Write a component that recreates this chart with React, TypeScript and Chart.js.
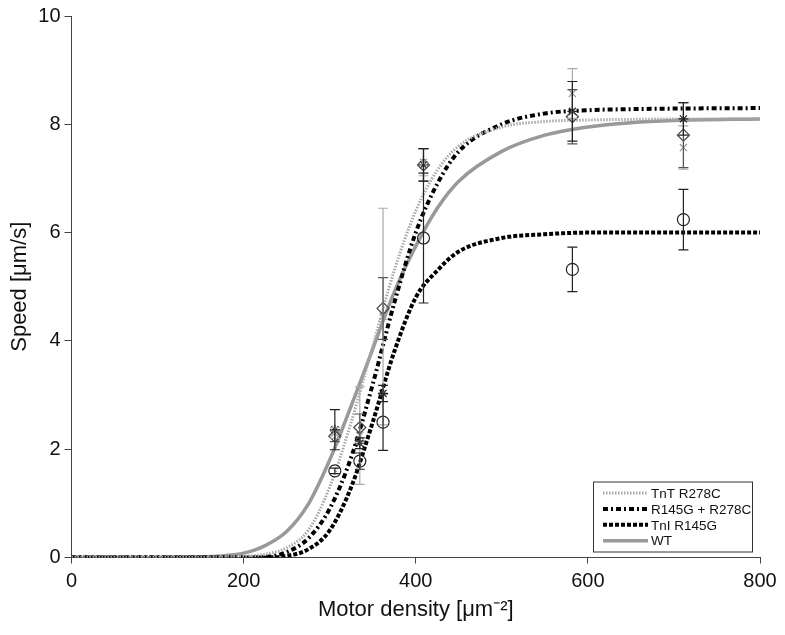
import React, { useEffect, useRef } from "react";
import { Chart, registerables } from "chart.js";

Chart.register(...registerables);

// ---- Data ----
const curveX = [0, 100, 150, 175, 200, 225, 250, 275, 300, 325, 350, 375, 400, 425, 450, 500, 550, 600, 650, 700, 800];
const wtCurve = [0, 0, 0.01, 0.03, 0.08, 0.22, 0.48, 0.98, 1.8, 2.8, 3.85, 4.9, 5.75, 6.45, 6.95, 7.5, 7.8, 7.95, 8.03, 8.07, 8.1];
const tntCurve = [0, 0, 0, 0.01, 0.02, 0.06, 0.18, 0.5, 1.3, 2.5, 3.9, 5.3, 6.4, 7.15, 7.6, 7.95, 8.05, 8.08, 8.09, 8.1, 8.1];
const doubleCurve = [0, 0, 0, 0, 0, 0.01, 0.1, 0.35, 0.9, 1.85, 3.2, 4.7, 6.0, 6.9, 7.5, 8.0, 8.2, 8.26, 8.28, 8.29, 8.3];
const tniCurve = [0, 0, 0, 0, 0, 0, 0.03, 0.15, 0.5, 1.3, 2.5, 3.8, 4.8, 5.3, 5.65, 5.9, 5.97, 6.0, 6.0, 6.0, 6.0];

const pointX = [306, 335, 362, 409, 582, 711];
const tniPts = [1.6, 1.78, 2.5, 5.9, 5.32, 6.24];
const tniErr = [0.05, 0.15, 0.52, 1.2, 0.41, 0.56];
const doublePts = [2.36, 2.11, 3.03, 7.25, 8.24, 8.1];
const doubleErr = [0.37, 0.1, 0.15, 0.3, 0.55, 0.3];
const wtPts = [2.24, 2.4, 4.6, 7.25, 8.14, 7.8];
const wtErr = [0.1, 0.25, 0.57, 0.3, 0.5, 0.6];
const tntPts = [2.3, 2.25, 4.45, 7.3, 8.57, 7.57];
const tntErr = [0.1, 0.9, 2.0, 0.25, 0.46, 0.4];

const xTicks = [0, 200, 400, 600, 800];
const yTicks = [0, 2, 4, 6, 8, 10];

const FONT = "'Liberation Sans', Arial, Helvetica, sans-serif";

const toXY = (xs: number[], ys: number[]) => xs.map((x, i) => ({ x, y: ys[i] }));

const errorBarPlugin = {
  id: "errorBars",
  afterDatasetsDraw(chart: any) {
    const { ctx, scales } = chart;
    chart.data.datasets.forEach((ds: any, di: number) => {
      if (!ds.errors) return;
      const meta = chart.getDatasetMeta(di);
      if (meta.hidden) return;
      ctx.save();
      ctx.strokeStyle = ds.errorColor || "#000";
      ctx.lineWidth = 1.2;
      ds.data.forEach((p: any, i: number) => {
        const e = ds.errors[i];
        if (!e) return;
        const px = scales.x.getPixelForValue(p.x);
        const top = scales.y.getPixelForValue(p.y + e);
        const bot = scales.y.getPixelForValue(p.y - e);
        ctx.beginPath();
        ctx.moveTo(px, top);
        ctx.lineTo(px, bot);
        ctx.moveTo(px - 5, top);
        ctx.lineTo(px + 5, top);
        ctx.moveTo(px - 5, bot);
        ctx.lineTo(px + 5, bot);
        ctx.stroke();
      });
      ctx.restore();
    });
  },
};

const boxLegendPlugin = {
  id: "boxLegend",
  afterDraw(chart: any) {
    const { ctx, chartArea } = chart;
    const items = chart.data.datasets.filter((d: any) => d.inLegend);
    const w = 159;
    const h = 70;
    const x0 = chartArea.right - w - 8;
    const y0 = chartArea.bottom - h - 6;
    ctx.save();
    ctx.fillStyle = "#fff";
    ctx.fillRect(x0, y0, w, h);
    ctx.strokeStyle = "#333";
    ctx.lineWidth = 1;
    ctx.strokeRect(x0 + 0.5, y0 + 0.5, w, h);
    ctx.font = `13.5px ${FONT}`;
    ctx.textBaseline = "middle";
    items.forEach((d: any, i: number) => {
      const yy = y0 + 11.5 + i * 15.9;
      ctx.save();
      ctx.strokeStyle = d.borderColor;
      ctx.lineWidth = d.borderWidth;
      ctx.setLineDash(d.borderDash || []);
      ctx.beginPath();
      ctx.moveTo(x0 + 10, yy);
      ctx.lineTo(x0 + 55, yy);
      ctx.stroke();
      ctx.restore();
      ctx.fillStyle = "#111";
      ctx.fillText(d.label, x0 + 58, yy + 1);
    });
    ctx.restore();
  },
};

export default function App() {
  const ref = useRef<HTMLCanvasElement | null>(null);

  useEffect(() => {
    if (!ref.current) return;
    const chart = new Chart(ref.current, {
      type: "scatter",
      data: {
        datasets: [
          {
            label: "TnT R278C pts",
            data: toXY(pointX, tntPts),
            errors: tntErr,
            errorColor: "#aaaaaa",
            pointStyle: "crossRot",
            pointRadius: 5,
            pointBorderColor: "#9a9a9a",
            pointBorderWidth: 1.2,
            showLine: false,
          } as any,
          {
            label: "WT pts",
            data: toXY(pointX, wtPts),
            errors: wtErr,
            errorColor: "#555555",
            pointStyle: "rectRot",
            pointRadius: 6,
            pointBackgroundColor: "rgba(255,255,255,0)",
            pointBorderColor: "#444",
            pointBorderWidth: 1.2,
            showLine: false,
          } as any,
          {
            label: "R145G + R278C pts",
            data: toXY(pointX, doublePts),
            errors: doubleErr,
            errorColor: "#222",
            pointStyle: "star",
            pointRadius: 5,
            pointBorderColor: "#222",
            pointBorderWidth: 1.2,
            showLine: false,
          } as any,
          {
            label: "TnI R145G pts",
            data: toXY(pointX, tniPts),
            errors: tniErr,
            errorColor: "#222",
            pointStyle: "circle",
            pointRadius: 6,
            pointBackgroundColor: "rgba(255,255,255,0)",
            pointBorderColor: "#222",
            pointBorderWidth: 1.2,
            showLine: false,
          } as any,
          {
            label: "TnT R278C",
            inLegend: true,
            data: toXY(curveX, tntCurve),
            showLine: true,
            pointRadius: 0,
            borderColor: "#a8a8a8",
            borderWidth: 3,
            borderDash: [1.5, 1.5],
            cubicInterpolationMode: "monotone",
          } as any,
          {
            label: "R145G + R278C",
            inLegend: true,
            data: toXY(curveX, doubleCurve),
            showLine: true,
            pointRadius: 0,
            borderColor: "#000",
            borderWidth: 4,
            borderDash: [5, 3, 2, 3],
            cubicInterpolationMode: "monotone",
          } as any,
          {
            label: "TnI R145G",
            inLegend: true,
            data: toXY(curveX, tniCurve),
            showLine: true,
            pointRadius: 0,
            borderColor: "#000",
            borderWidth: 4,
            borderDash: [4, 2],
            cubicInterpolationMode: "monotone",
          } as any,
          {
            label: "WT",
            inLegend: true,
            data: toXY(curveX, wtCurve),
            showLine: true,
            pointRadius: 0,
            borderColor: "#999999",
            borderWidth: 3.5,
            cubicInterpolationMode: "monotone",
          } as any,
        ],
      },
      options: {
        animation: false,
        responsive: false,
        devicePixelRatio: 1,
        layout: { padding: { left: 0, right: 25, top: 15, bottom: 0 } },
        plugins: {
          legend: { display: false },
          tooltip: { enabled: false },
        },
        scales: {
          x: {
            type: "linear",
            min: 0,
            max: 800,
            afterFit: (s: any) => {
              s.height = 77.5;
            },
            afterBuildTicks: (s: any) => {
              s.ticks = xTicks.map((v) => ({ value: v }));
            },
            border: { display: true, color: "#444", width: 1 },
            grid: { display: true, drawOnChartArea: false, drawTicks: true, tickLength: 6, color: "#444" },
            ticks: { color: "#111", font: { size: 20, family: FONT }, padding: 6, maxRotation: 0 },
            title: {
              display: true,
              text: "Motor density [μm⁻²]",
              color: "#111",
              font: { size: 22, family: FONT },
              padding: { top: 0, bottom: 12 },
            },
          },
          y: {
            type: "linear",
            min: 0,
            max: 10,
            afterFit: (s: any) => {
              s.width = 71.5;
            },
            afterBuildTicks: (s: any) => {
              s.ticks = yTicks.map((v) => ({ value: v }));
            },
            border: { display: true, color: "#444", width: 1 },
            grid: { display: true, drawOnChartArea: false, drawTicks: true, tickLength: 7, color: "#444" },
            ticks: { color: "#111", font: { size: 20, family: FONT }, padding: 4 },
            title: {
              display: true,
              text: "Speed [μm/s]",
              color: "#111",
              font: { size: 22, family: FONT },
              padding: { top: 7, bottom: 0 },
            },
          },
        },
      } as any,
      plugins: [errorBarPlugin, boxLegendPlugin],
    });
    return () => chart.destroy();
  }, []);

  return (
    <div style={{ position: "fixed", left: 0, top: 0, width: 785, height: 635, background: "#fff" }}>
      <canvas ref={ref} width={785} height={635} style={{ width: 785, height: 635, display: "block" }} />
    </div>
  );
}
